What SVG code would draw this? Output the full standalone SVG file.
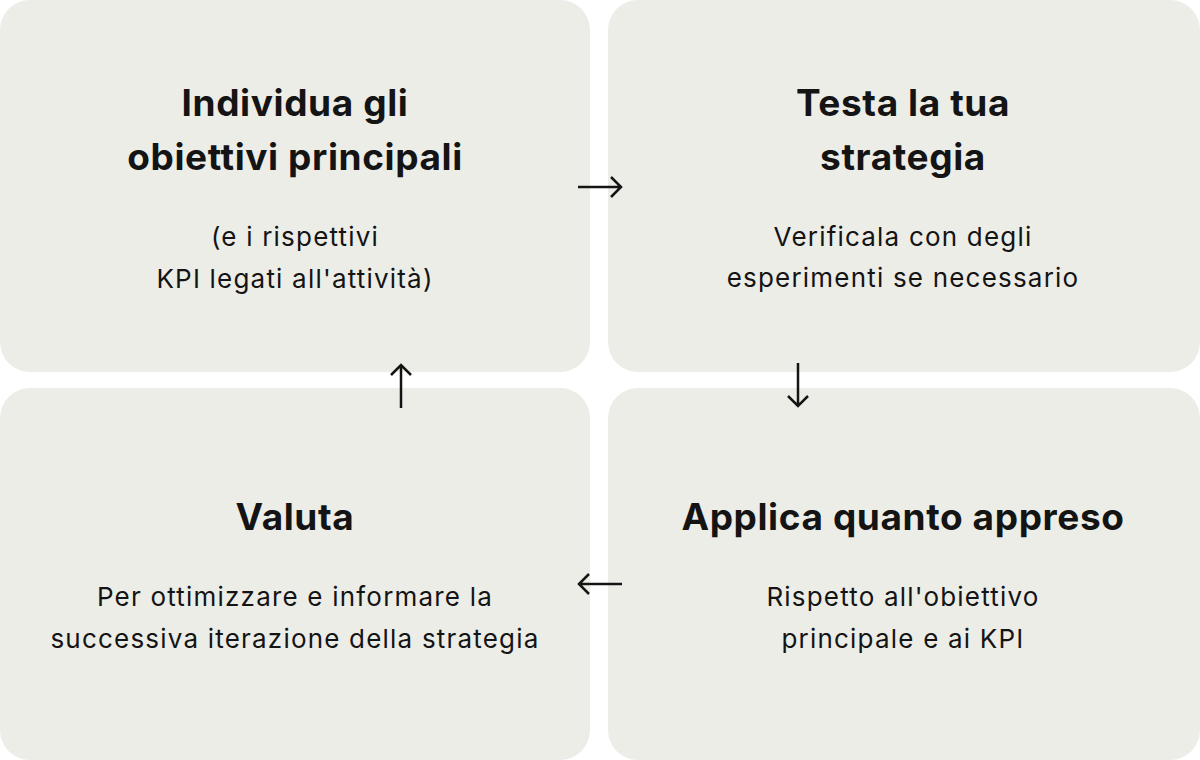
<svg xmlns="http://www.w3.org/2000/svg" width="1200" height="760" viewBox="0 0 1200 760">
<defs>
<style>
.box{fill:#EDEDE8}
.t{font-family:Inter,"Liberation Sans",sans-serif;font-weight:700;font-size:37px;letter-spacing:0.6px;fill:#141414;text-anchor:middle}
.s{font-family:Inter,"Liberation Sans",sans-serif;font-weight:400;font-size:26px;letter-spacing:1.2px;fill:#141414;text-anchor:middle}
.c{stroke:#141414;stroke-width:2.5;fill:none}
</style>
</defs>
<rect width="1200" height="760" fill="#FFFFFF"/>
<g id="node-individua">
<rect class="box" x="0" y="0" width="590" height="372" rx="30"/>
<text class="t" x="295" y="116">Individua gli</text>
<text class="t" x="295" y="170">obiettivi principali</text>
<text class="s" x="295" y="246">(e i rispettivi</text>
<text class="s" x="295" y="288">KPI legati all'attività)</text>
</g>
<g id="node-testa">
<rect class="box" x="608" y="0" width="592" height="372" rx="30"/>
<text class="t" x="903" y="116">Testa la tua</text>
<text class="t" x="903" y="170">strategia</text>
<text class="s" x="903" y="246">Verificala con degli</text>
<text class="s" x="903" y="287">esperimenti se necessario</text>
</g>
<g id="node-valuta">
<rect class="box" x="0" y="388" width="590" height="372" rx="30"/>
<text class="t" x="295" y="530">Valuta</text>
<text class="s" x="295" y="606">Per ottimizzare e informare la</text>
<text class="s" x="295" y="648">successiva iterazione della strategia</text>
</g>
<g id="node-applica">
<rect class="box" x="608" y="388" width="592" height="372" rx="30"/>
<text class="t" x="903" y="530">Applica quanto appreso</text>
<text class="s" x="903" y="606">Rispetto all'obiettivo</text>
<text class="s" x="903" y="648">principale e ai KPI</text>
</g>
<g id="connectors">
<path class="c" d="M578 187H620M611 177L621 187L611 197"/>
<path class="c" d="M798 363V405M788 396L798 406L808 396"/>
<path class="c" d="M401 408V366M391 375L401 365L411 375"/>
<path class="c" d="M622 584H580M589 574L579 584L589 594"/>
</g>
</svg>
